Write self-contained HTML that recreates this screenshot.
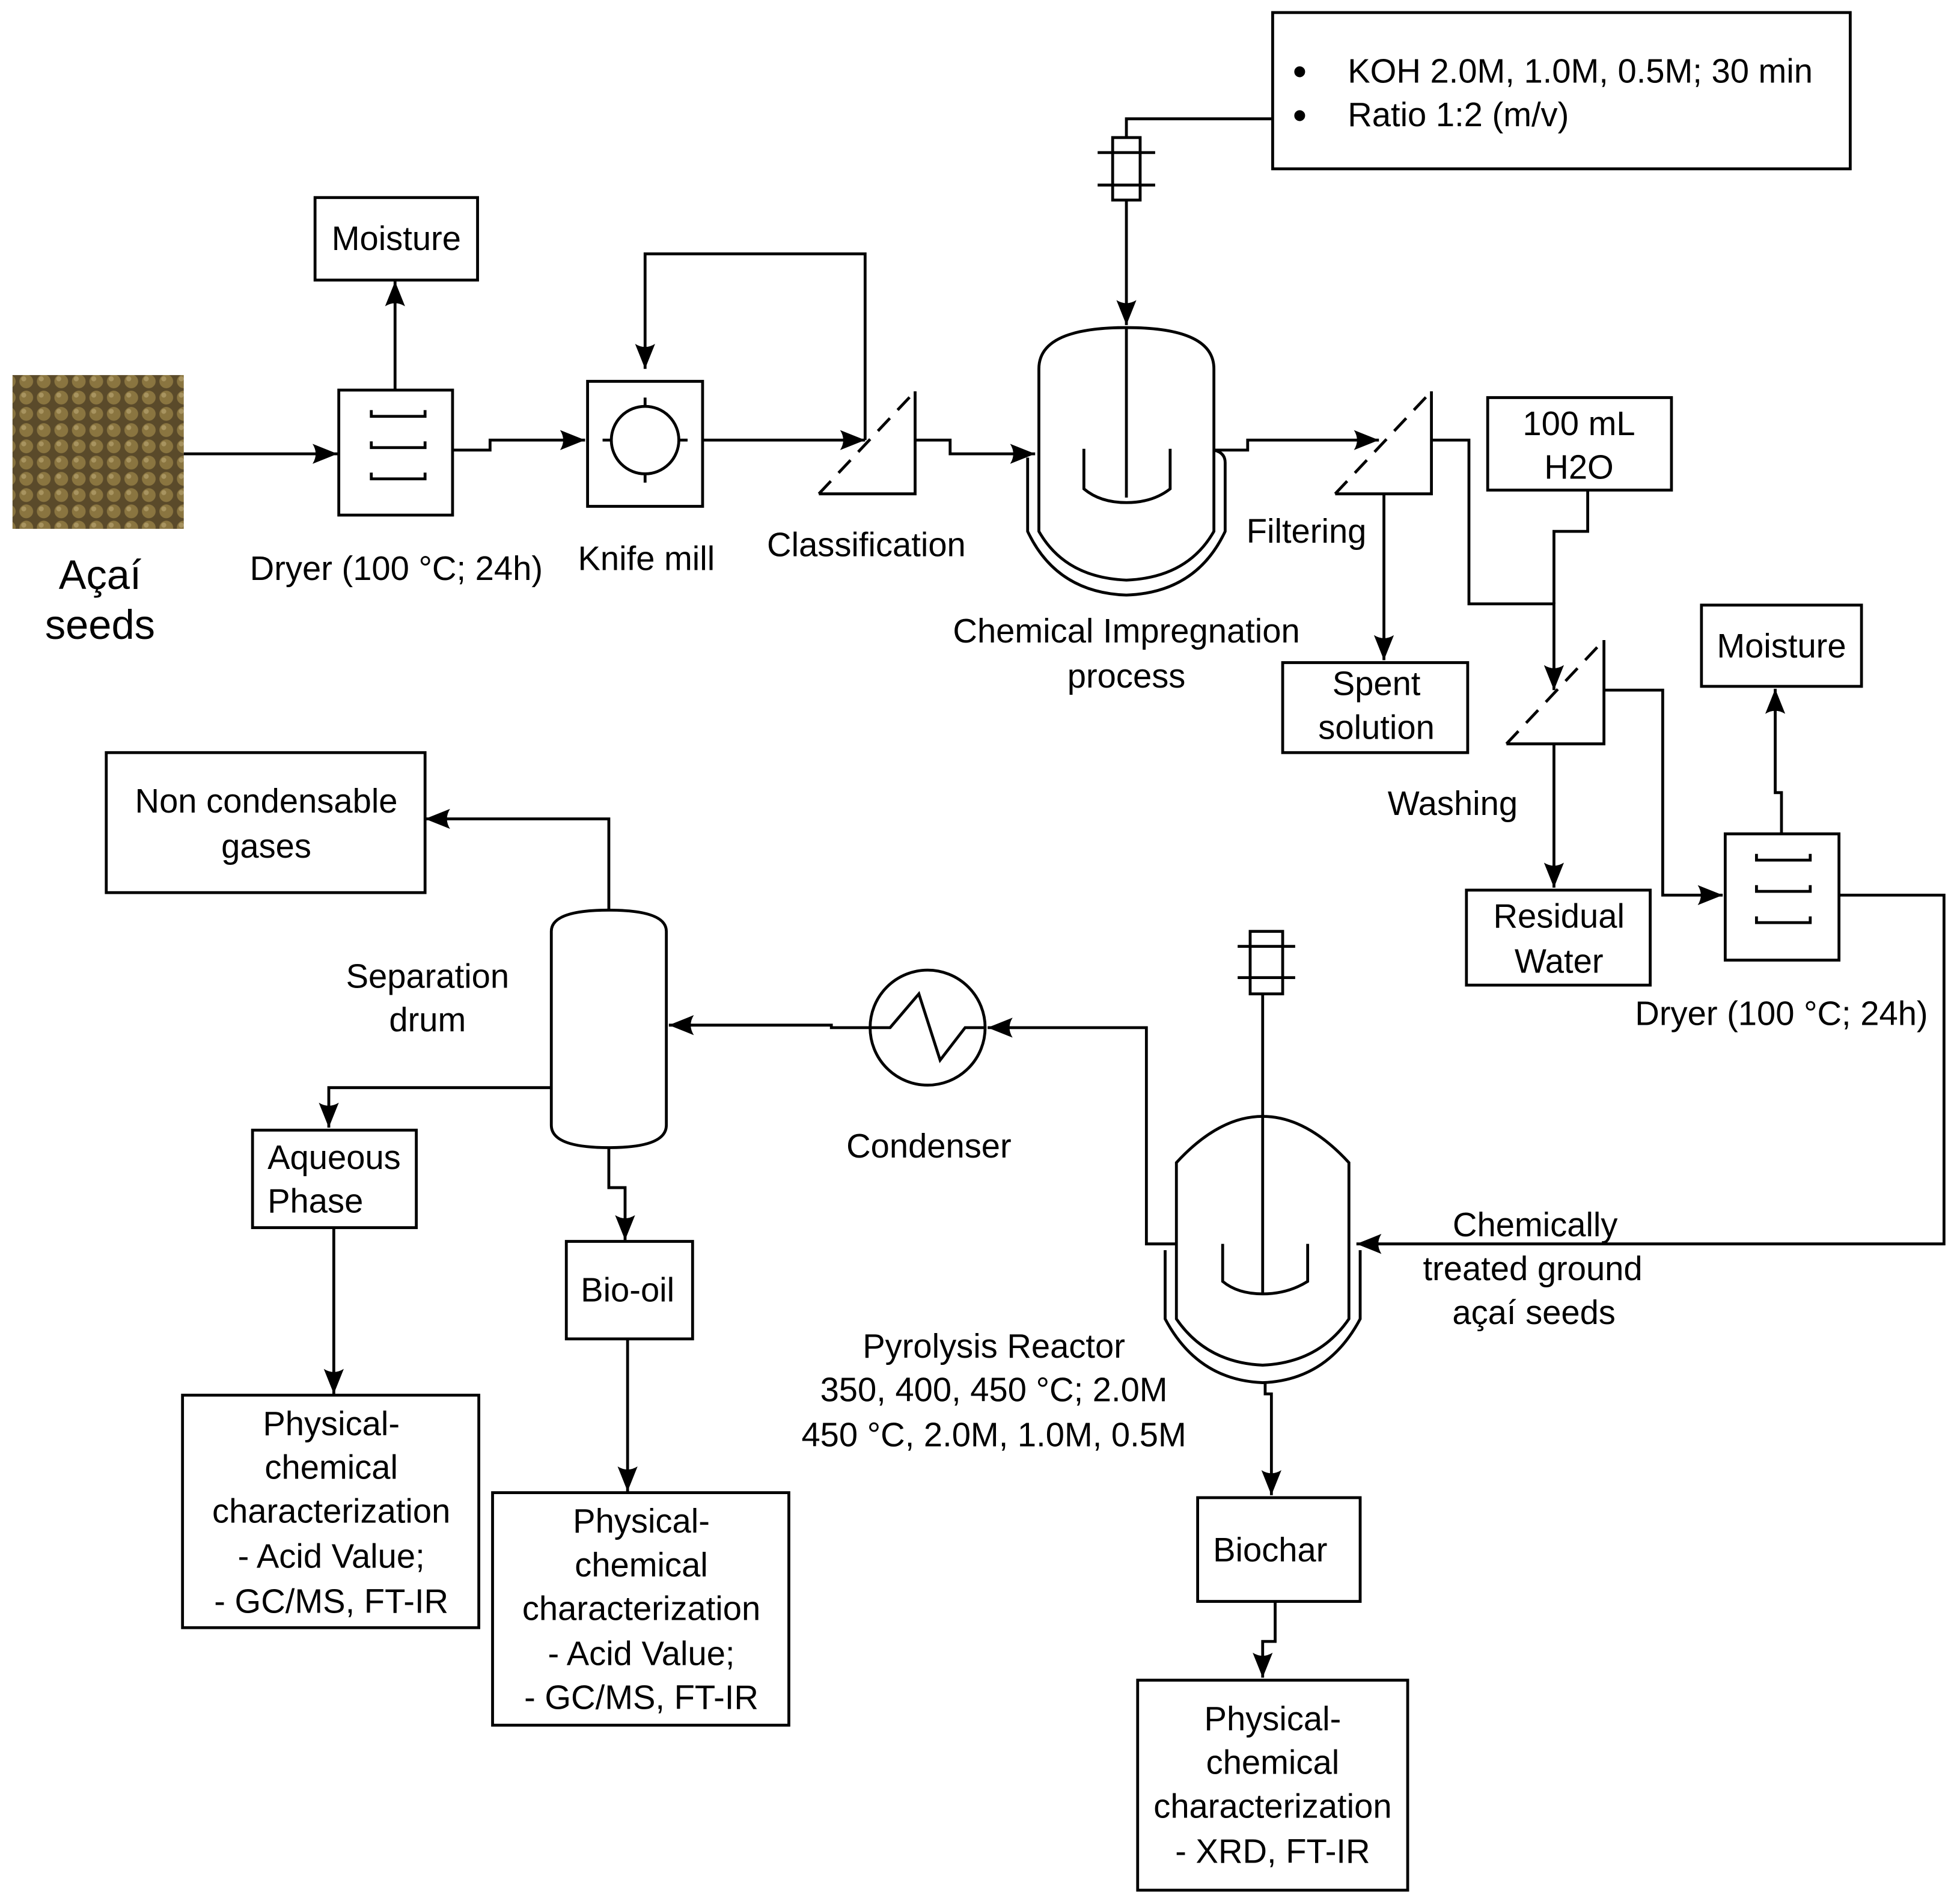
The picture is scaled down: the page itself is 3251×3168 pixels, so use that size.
<!DOCTYPE html>
<html><head><meta charset="utf-8"><style>
html,body{margin:0;padding:0;background:#fff;}
svg{display:block;}
text{font-family:"Liberation Sans",Arial,sans-serif;font-size:27px;fill:#000;}
</style></head><body>
<svg width="3251" height="3168" viewBox="0 0 1563 1523" xmlns="http://www.w3.org/2000/svg">
<defs>
<marker id="a" viewBox="0 0 20 16" refX="20" refY="8" markerWidth="20" markerHeight="16" markerUnits="userSpaceOnUse" orient="auto">
<path d="M0,0 L20,8 L0,16 Q5,8 0,0Z" fill="#000"/></marker>
<pattern id="seed" width="14" height="13" patternUnits="userSpaceOnUse">
<rect width="14" height="13" fill="#5a4a2a"/>
<circle cx="7" cy="6" r="5.5" fill="#8a7540"/><circle cx="5" cy="4" r="2" fill="#a89460"/>
</pattern>
</defs>
<g fill="none" stroke="#000" stroke-width="2.3">
<rect x="10" y="300" width="137" height="123" fill="url(#seed)" stroke="none"/>
<line x1="147" y1="363" x2="270" y2="363" marker-end="url(#a)"/>
<rect x="271" y="312" width="91" height="100"/>
<path d="M297,328v5h43v-5M297,353v5h43v-5M297,378v5h43v-5"/>
<rect x="252" y="158" width="130" height="66"/>
<line x1="316" y1="312" x2="316" y2="225" marker-end="url(#a)"/>
<polyline points="362,360 392,360 392,352 468,352" marker-end="url(#a)"/>
<rect x="470" y="305" width="92" height="100"/>
<circle cx="516" cy="352" r="27"/>
<path d="M516,318v7M516,379v7M482,352h7M543,352h7"/>
<line x1="562" y1="352" x2="692" y2="352" marker-end="url(#a)"/>
<polyline points="692,352 692,203 516,203 516,295" marker-end="url(#a)"/>
<polyline points="732,313 732,395 655,395"/>
<line x1="655" y1="395" x2="732" y2="313" stroke-dasharray="14,9"/>
<polyline points="732,352 760,352 760,363 828,363" marker-end="url(#a)"/>
<path d="M831,425 V295 Q831,262 901,262 Q971,262 971,295 V425 Q950,462 901,464 Q852,462 831,425Z"/>
<path d="M822,366 V425 Q845,474 901,476 Q957,474 980,425 V370 Q980,362 971,360"/>
<line x1="901" y1="262" x2="901" y2="398"/>
<path d="M867,359 V391 Q880,402 901,402 Q922,402 936,391 V359"/>
<polyline points="1018,95 901,95 901,260" marker-end="url(#a)"/>
<rect x="890" y="110" width="22" height="50" fill="#fff"/>
<path d="M878,122h46M878,148h46"/>
<rect x="1018" y="10" width="462" height="125"/>
<polyline points="971,360 998,360 998,352 1103,352" marker-end="url(#a)"/>
<polyline points="1145,313 1145,395 1068,395"/>
<line x1="1068" y1="395" x2="1145" y2="313" stroke-dasharray="14,9"/>
<line x1="1107" y1="395" x2="1107" y2="528" marker-end="url(#a)"/>
<rect x="1026" y="530" width="148" height="72"/>
<polyline points="1145,352 1175,352 1175,483 1243,483 1243,552" marker-end="url(#a)"/>
<rect x="1190" y="318" width="147" height="74"/>
<polyline points="1270,392 1270,425 1243,425 1243,483"/>
<polyline points="1283,512 1283,595 1205,595"/>
<line x1="1205" y1="595" x2="1283" y2="512" stroke-dasharray="14,9"/>
<line x1="1243" y1="595" x2="1243" y2="710" marker-end="url(#a)"/>
<rect x="1173" y="712" width="147" height="76"/>
<polyline points="1283,552 1330,552 1330,716 1378,716" marker-end="url(#a)"/>
<rect x="1380" y="667" width="91" height="101"/>
<path d="M1405,683v5h43v-5M1405,708v5h43v-5M1405,733v5h43v-5"/>
<rect x="1361" y="484" width="128" height="65"/>
<polyline points="1425,667 1425,634 1420,634 1420,551" marker-end="url(#a)"/>
<polyline points="1471,716 1555,716 1555,995 1085,995" marker-end="url(#a)"/>
<path d="M941,1055 V930 Q975,893 1010,893 Q1045,893 1079,930 V1055 Q1055,1090 1010,1092 Q965,1090 941,1055Z"/>
<path d="M932,1000 V1055 Q958,1104 1010,1106 Q1062,1104 1088,1055 V1000"/>
<line x1="1010" y1="793" x2="1010" y2="1035"/>
<path d="M978,995 V1025 Q990,1035 1010,1035 Q1030,1035 1046,1025 V995"/>
<rect x="1000" y="745" width="26" height="50" fill="#fff"/>
<path d="M990,757h46M990,782h46"/>
<polyline points="941,995 917,995 917,822 790,822" marker-end="url(#a)"/>
<polyline points="1012,1106 1012,1115 1017,1115 1017,1196" marker-end="url(#a)"/>
<rect x="958" y="1198" width="130" height="83"/>
<polyline points="1020,1281 1020,1313 1010,1313 1010,1342" marker-end="url(#a)"/>
<rect x="910" y="1344" width="216" height="168"/>
<circle cx="742" cy="822" r="46"/>
<polyline points="696,822 712,822 735,795 752,848 772,822 788,822"/>
<polyline points="696,822 665,822 665,820 535,820" marker-end="url(#a)"/>
<path d="M441,745 Q441,728 487,728 Q533,728 533,745 V900 Q533,918 487,918 Q441,918 441,900Z"/>
<polyline points="487,728 487,655 340,655" marker-end="url(#a)"/>
<rect x="85" y="602" width="255" height="112"/>
<polyline points="441,870 263,870 263,902" marker-end="url(#a)"/>
<rect x="202" y="904" width="131" height="78"/>
<polyline points="487,918 487,950 500,950 500,992" marker-end="url(#a)"/>
<rect x="453" y="993" width="101" height="78"/>
<line x1="267" y1="982" x2="267" y2="1115" marker-end="url(#a)"/>
<rect x="146" y="1116" width="237" height="186"/>
<line x1="502" y1="1071" x2="502" y2="1193" marker-end="url(#a)"/>
<rect x="394" y="1194" width="237" height="186"/>
</g>
<g text-anchor="middle">
<text x="317" y="200">Moisture</text>
<text x="80" y="471" style="font-size:33px">Açaí</text>
<text x="80" y="511" style="font-size:33px">seeds</text>
<text x="317" y="464">Dryer (100 °C; 24h)</text>
<text x="517" y="456">Knife mill</text>
<text x="693" y="445">Classification</text>
<text x="901" y="514">Chemical Impregnation</text>
<text x="901" y="550">process</text>
<text x="1045" y="434">Filtering</text>
<text x="1101" y="556">Spent</text>
<text x="1101" y="591">solution</text>
<text x="1263" y="348">100 mL</text>
<text x="1263" y="383">H2O</text>
<text x="1162" y="652">Washing</text>
<text x="1425" y="526">Moisture</text>
<text x="1247" y="742">Residual</text>
<text x="1247" y="778">Water</text>
<text x="1425" y="820">Dryer (100 °C; 24h)</text>
<text x="213" y="650">Non condensable</text>
<text x="213" y="686">gases</text>
<text x="342" y="790">Separation</text>
<text x="342" y="825">drum</text>
<text x="743" y="926">Condenser</text>
<text x="502" y="1041">Bio-oil</text>
<text x="1228" y="989">Chemically</text>
<text x="1226" y="1024">treated ground</text>
<text x="1227" y="1059">açaí seeds</text>
<text x="795" y="1086">Pyrolysis Reactor</text>
<text x="795" y="1121">350, 400, 450 °C; 2.0M</text>
<text x="795" y="1157">450 °C, 2.0M, 1.0M, 0.5M</text>
<text x="265" y="1148">Physical-</text>
<text x="265" y="1183">chemical</text>
<text x="265" y="1218">characterization</text>
<text x="265" y="1254">- Acid Value;</text>
<text x="265" y="1290">- GC/MS, FT-IR</text>
<text x="513" y="1226">Physical-</text>
<text x="513" y="1261">chemical</text>
<text x="513" y="1296">characterization</text>
<text x="513" y="1332">- Acid Value;</text>
<text x="513" y="1367">- GC/MS, FT-IR</text>
<text x="1016" y="1249">Biochar</text>
<text x="1018" y="1384">Physical-</text>
<text x="1018" y="1419">chemical</text>
<text x="1018" y="1454">characterization</text>
<text x="1018" y="1490">- XRD, FT-IR</text>
</g>
<text x="214" y="935">Aqueous</text>
<text x="214" y="970">Phase</text>
<text x="1034" y="68" style="font-size:32px">•</text>
<text x="1034" y="103" style="font-size:32px">•</text>
<text x="1078" y="66">KOH 2.0M, 1.0M, 0.5M; 30 min</text>
<text x="1078" y="101">Ratio 1:2 (m/v)</text>
</svg>
</body></html>
